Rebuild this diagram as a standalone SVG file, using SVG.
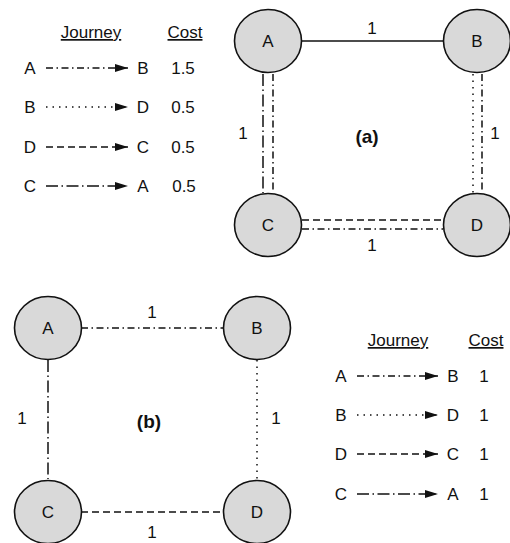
<svg xmlns="http://www.w3.org/2000/svg" width="510" height="543" viewBox="0 0 510 543">
  <style>
    text { font-family: "Liberation Sans", Arial, sans-serif; font-size: 17px; fill: #111; }
    .hdr { text-decoration: underline; }
    .lbl { font-weight: bold; font-size: 19px; }
    .node ellipse { fill: #d9d9d9; stroke: #111; stroke-width: 1.6; }
    .edge { fill: none; stroke: #111; stroke-width: 1.5; }
    .solid { }
    .sdd { stroke-dasharray: 7 3.5 1.5 3.5; }
    .ldd { stroke-dasharray: 12 3.5 1.5 3.5; }
    .dot { stroke-dasharray: 1.5 5; }
    .dash { stroke-dasharray: 7 4; }
    .arr { marker-end: url(#head); }
  </style>
  <defs>
    <marker id="head" markerWidth="14" markerHeight="10" refX="13" refY="4.5" orient="auto" markerUnits="userSpaceOnUse">
      <path d="M0,0.5 L13,4.5 L0,8.5 Z" fill="#111"/>
    </marker>
  </defs>

  <!-- legend, graph (a) -->
  <g id="legend-a" text-anchor="middle">
    <text class="hdr" x="91" y="38">Journey</text>
    <text class="hdr" x="185" y="38">Cost</text>
    <text x="30" y="74">A</text>
    <line class="edge sdd arr" x1="46" y1="68" x2="128" y2="68"/>
    <text x="143" y="74">B</text>
    <text x="183" y="74">1.5</text>
    <text x="30" y="113">B</text>
    <line class="edge dot arr" x1="46" y1="107" x2="128" y2="107"/>
    <text x="143" y="113">D</text>
    <text x="183" y="113">0.5</text>
    <text x="30" y="153">D</text>
    <line class="edge dash arr" x1="46" y1="147" x2="128" y2="147"/>
    <text x="143" y="153">C</text>
    <text x="183" y="153">0.5</text>
    <text x="30" y="192">C</text>
    <line class="edge ldd arr" x1="46" y1="186" x2="128" y2="186"/>
    <text x="143" y="192">A</text>
    <text x="184" y="192">0.5</text>
  </g>

  <!-- connectors, graph (a) -->
  <g id="edges-a">
    <line class="edge solid" x1="301" y1="41" x2="444" y2="41"/>
    <line class="edge ldd" x1="263" y1="74" x2="263" y2="193"/>
    <line class="edge sdd" x1="273" y1="74" x2="273" y2="193"/>
    <line class="edge dot" x1="473" y1="74" x2="473" y2="193"/>
    <line class="edge sdd" x1="482" y1="74" x2="482" y2="193"/>
    <line class="edge dash" x1="302" y1="220" x2="443" y2="220"/>
    <line class="edge sdd" x1="302" y1="229" x2="443" y2="229"/>
  </g>
  <g id="labels-a" text-anchor="middle">
    <text x="372" y="34">1</text>
    <text x="243" y="139">1</text>
    <text x="495" y="139">1</text>
    <text x="372" y="251">1</text>
    <text class="lbl" x="367" y="143">(a)</text>
  </g>

  <!-- nodes, graph (a) -->
  <g id="a-A" class="node"><ellipse cx="268" cy="41" rx="33.5" ry="31.5"/><text x="268" y="47" text-anchor="middle">A</text></g>
  <g id="a-B" class="node"><ellipse cx="477" cy="41" rx="33.5" ry="31.5"/><text x="477" y="47" text-anchor="middle">B</text></g>
  <g id="a-C" class="node"><ellipse cx="268" cy="225" rx="33.5" ry="31.5"/><text x="268" y="231" text-anchor="middle">C</text></g>
  <g id="a-D" class="node"><ellipse cx="477" cy="225" rx="33.5" ry="31.5"/><text x="477" y="231" text-anchor="middle">D</text></g>

  <!-- connectors, graph (b) -->
  <g id="edges-b">
    <line class="edge sdd" x1="81" y1="328" x2="223" y2="328"/>
    <line class="edge ldd" x1="48" y1="360" x2="48" y2="479"/>
    <line class="edge dot" x1="257" y1="360" x2="257" y2="479"/>
    <line class="edge dash" x1="81" y1="512" x2="223" y2="512"/>
  </g>
  <g id="labels-b" text-anchor="middle">
    <text x="152" y="318">1</text>
    <text x="22" y="424">1</text>
    <text x="276" y="424">1</text>
    <text x="152" y="538">1</text>
    <text class="lbl" x="149" y="428">(b)</text>
  </g>

  <!-- nodes, graph (b) -->
  <g id="b-A" class="node"><ellipse cx="48" cy="328" rx="33.5" ry="31.5"/><text x="48" y="334" text-anchor="middle">A</text></g>
  <g id="b-B" class="node"><ellipse cx="257" cy="328" rx="33.5" ry="31.5"/><text x="257" y="334" text-anchor="middle">B</text></g>
  <g id="b-C" class="node"><ellipse cx="48" cy="512" rx="33.5" ry="31.5"/><text x="48" y="518" text-anchor="middle">C</text></g>
  <g id="b-D" class="node"><ellipse cx="257" cy="512" rx="33.5" ry="31.5"/><text x="257" y="518" text-anchor="middle">D</text></g>

  <!-- legend, graph (b) -->
  <g id="legend-b" text-anchor="middle">
    <text class="hdr" x="398" y="346">Journey</text>
    <text class="hdr" x="486" y="346">Cost</text>
    <text x="341" y="382">A</text>
    <line class="edge sdd arr" x1="357" y1="376" x2="438" y2="376"/>
    <text x="453" y="382">B</text>
    <text x="484" y="382">1</text>
    <text x="341" y="421">B</text>
    <line class="edge dot arr" x1="357" y1="415" x2="438" y2="415"/>
    <text x="453" y="421">D</text>
    <text x="484" y="421">1</text>
    <text x="341" y="460">D</text>
    <line class="edge dash arr" x1="357" y1="454" x2="438" y2="454"/>
    <text x="453" y="460">C</text>
    <text x="484" y="460">1</text>
    <text x="341" y="500">C</text>
    <line class="edge ldd arr" x1="357" y1="494" x2="438" y2="494"/>
    <text x="453" y="500">A</text>
    <text x="484" y="500">1</text>
  </g>
</svg>
